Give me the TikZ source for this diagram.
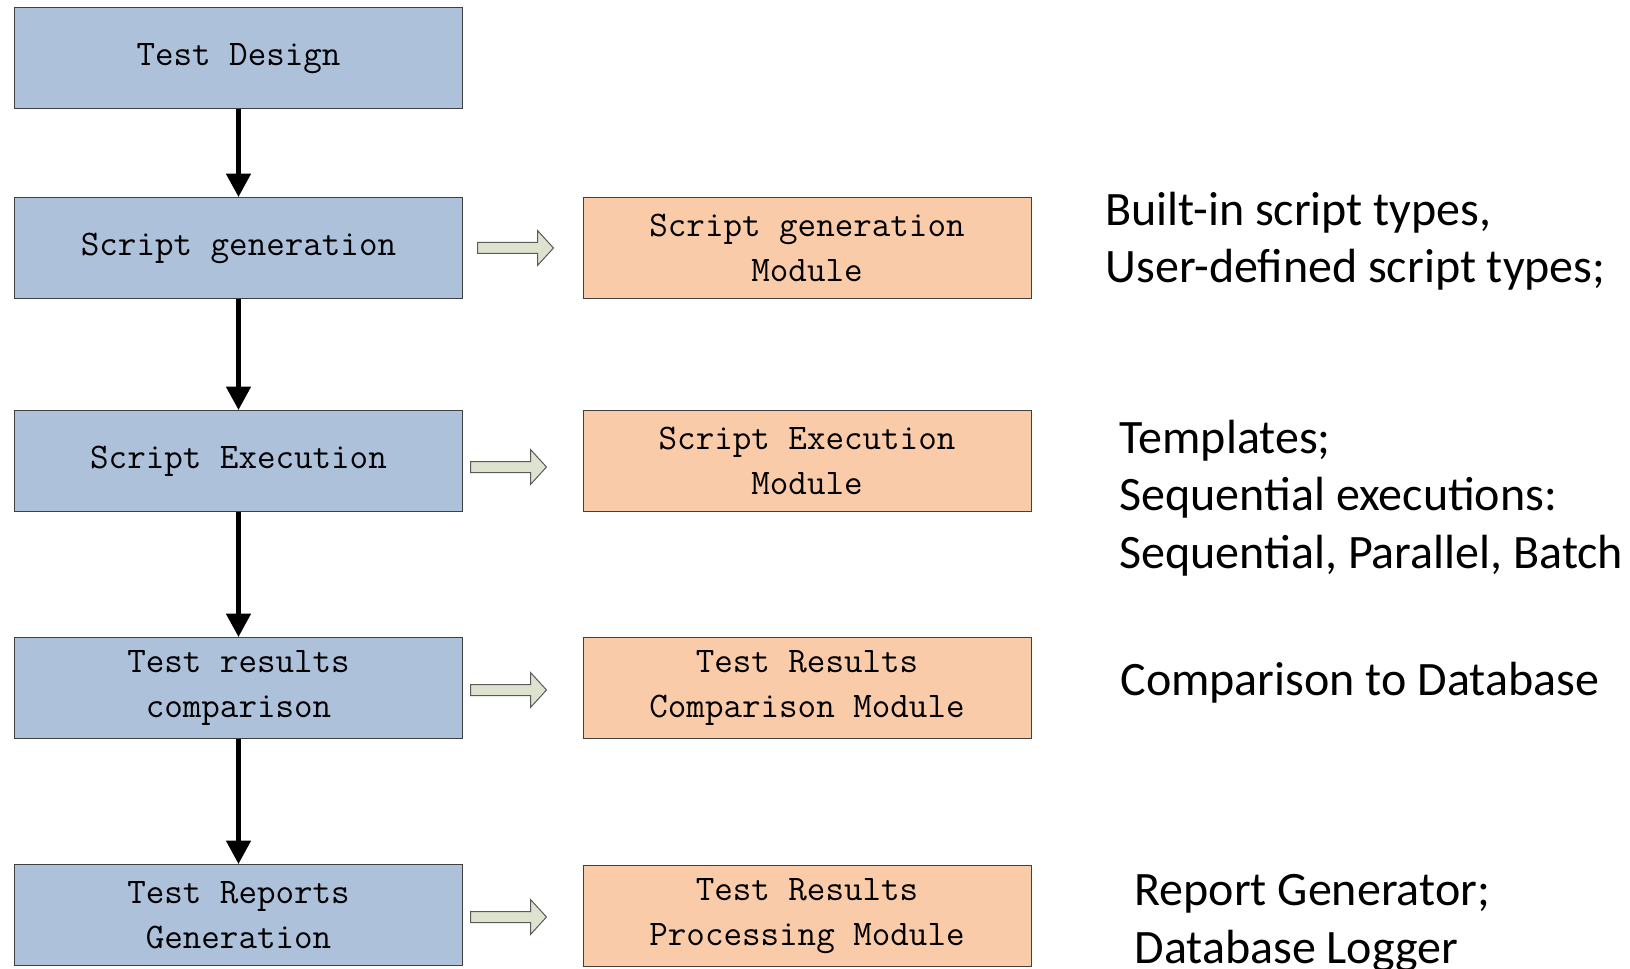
\documentclass[tikz,border=0pt]{standalone}
\usepackage{fontspec}
\newfontfamily\calfont{Carlito}
\definecolor{stepblue}{RGB}{173,193,219}
\definecolor{modorange}{RGB}{249,203,168}
\definecolor{arrowgrey}{RGB}{221,227,206}
\usetikzlibrary{arrows.meta}

\tikzset{every picture/.style={line width=0.75pt}}
\tikzset{
  stepbox/.style={draw={rgb,255:red,64;green,64;blue,64},fill=stepblue,minimum width=336pt,minimum height=75.75pt,inner sep=0pt,align=center,font=\ttfamily\fontsize{27}{34}\selectfont},
  modbox/.style={stepbox,fill=modorange},
  notetext/.style={anchor=west,inner sep=0pt,align=left,font=\calfont\fontsize{36}{43}\selectfont},
  flow/.style={line width=3.4pt,-{Triangle[width=18pt,length=17.5pt]}},
  garrow/.style={draw={rgb,255:red,90;green,90;blue,90},fill=arrowgrey,line width=0.75pt,line join=miter}
}

\begin{document}
\begin{tikzpicture}[x=0.75pt,y=0.75pt,yscale=-1,xscale=1]
            \useasboundingbox (0,0) rectangle (1630,969);

            %Shape: Rectangle
            \node [stepbox] (design) at (238.5,58.5) {Test Design};
            %Shape: Rectangle
            \node [stepbox] (gen) at (238.5,248) {Script generation};
            %Shape: Rectangle
            \node [stepbox] (exec) at (238.5,461) {Script Execution};
            %Shape: Rectangle
            \node [stepbox] (comp) at (238.5,688) {Test results\\comparison};
            %Shape: Rectangle
            \node [stepbox] (report) at (238.5,915) {Test Reports\\Generation};

            %Shape: Rectangle
            \node [modbox] (genmod) at (807,248) {Script generation\\Module};
            %Shape: Rectangle
            \node [modbox] (execmod) at (807,461) {Script Execution\\Module};
            %Shape: Rectangle
            \node [modbox] (compmod) at (807,688) {Test Results\\Comparison Module};
            %Shape: Rectangle
            \node [modbox] (procmod) at (807,916) {Test Results\\Processing Module};

            %Straight Lines
            \draw [flow] (design) -- (gen);
            \draw [flow] (gen) -- (exec);
            \draw [flow] (exec) -- (comp);
            \draw [flow] (comp) -- (report);

            %Shape: Right Arrow
            \foreach \b/\dx/\dy in {gen/14.5/0, exec/7.5/6, comp/7.5/2, report/7.5/2}
              \draw [garrow] (\b.east) ++(\dx,\dy-5.5) -- ++(60,0) -- ++(0,-12) -- ++(16,17.5) -- ++(-16,17.5) -- ++(0,-12) -- ++(-60,0) -- cycle ;

            % Text Node
            \node [notetext] (gennote) at (1105,241.5) {Built-in script types,\\User-defined script types;};
            % Text Node
            \node [notetext] (execnote) at (1119,498) {Templates;\\Sequential executions:\\Sequential, Parallel, Batch};
            % Text Node
            \node [notetext] (compnote) at (1120,682.5) {Comparison to Database};
            % Text Node
            \node [notetext] (reportnote) at (1134,923) {Report Generator;\\Database Logger};

\end{tikzpicture}
\end{document}
